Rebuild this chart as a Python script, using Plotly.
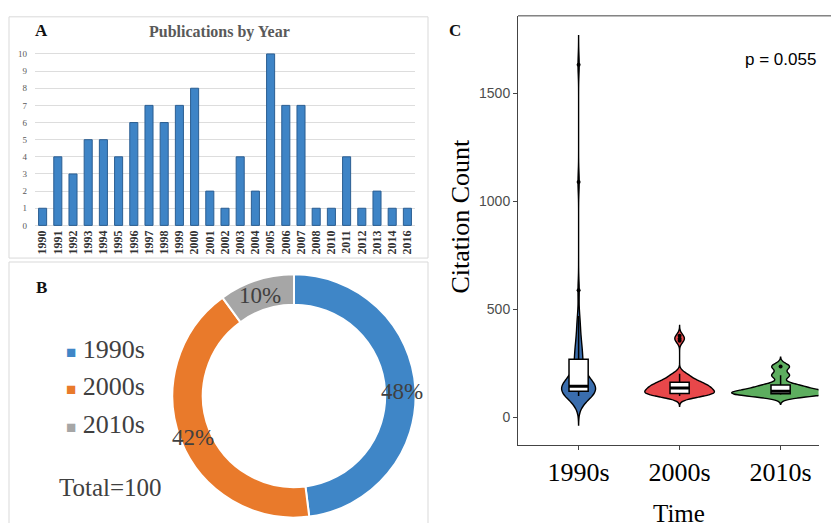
import math
import numpy as np
import plotly.graph_objects as go

W, H = 831, 526
SERIF = "Liberation Serif"
SANS = "Liberation Sans"

# ---------- Panel A data ----------
years = ["1990", "1991", "1992", "1993", "1994", "1995", "1996", "1997", "1998", "1999",
         "2000", "2001", "2002", "2003", "2004", "2005", "2006", "2007", "2008", "2010",
         "2011", "2012", "2013", "2014", "2016"]
pubs = [1, 4, 3, 5, 5, 4, 6, 7, 6, 7, 8, 2, 1, 4, 2, 10, 7, 7, 1, 1, 4, 1, 2, 1, 1]

# ---------- Panel B data ----------
decades = ["1990s", "2000s", "2010s"]
decade_counts = [48, 42, 10]
decade_colors = ["#3F86C7", "#E97A2B", "#A6A6A6"]

# ---------- Panel C data (citation counts) ----------
cit_1990s = [100, 104, 107, 110, 112, 114, 116, 117, 118, 119, 120, 121,
             123, 125, 127, 129, 131, 133, 135, 137, 139, 141, 143, 144,
             146, 150, 155, 160, 168, 175, 185, 195, 210, 225, 245, 265,
             275, 290, 305, 320, 340, 365, 395, 430, 470, 589, 1091, 1633]
cit_2000s = [100, 102, 104, 105, 106, 107, 108, 109, 110, 110,
             111, 113, 116, 119, 122, 125, 128, 131, 133, 135, 136,
             138, 140, 142, 145, 148, 151, 154, 157, 159, 161,
             163, 167, 172, 178, 185, 192, 198, 203, 355, 365, 378]
cit_2010s = [105, 108, 110, 112, 118, 126, 140, 150, 195, 236]
violin_groups = [("1990s", cit_1990s, "#3A6DAD", 45),
                 ("2000s", cit_2000s, "#E8474A", 16),
                 ("2010s", cit_2010s, "#5DAE5F", 14.5)]
p_text = "p = 0.055"


def px(x):
    return x / W


def py(y):
    return 1 - y / H


fig = go.Figure()

# Panel A bars
fig.add_trace(go.Bar(
    x=years, y=pubs, xaxis="x", yaxis="y",
    marker=dict(color="#3E84C6", line=dict(color="#2B5E92", width=1)),
    showlegend=False,
))

# Panel B donut
PIE_CX, PIE_CY, PIE_R, PIE_HOLE = 294, 397.5, 123, 0.75
fig.add_trace(go.Pie(
    labels=decades, values=decade_counts, sort=False, direction="clockwise",
    rotation=0, hole=PIE_HOLE,
    marker=dict(colors=decade_colors, line=dict(color="white", width=2)),
    textinfo="none",
    domain=dict(x=[px(PIE_CX - PIE_R), px(PIE_CX + PIE_R)],
                y=[py(PIE_CY + PIE_R), py(PIE_CY - PIE_R)]),
    showlegend=False, hoverinfo="label+value",
))

# Panel C violins
for name, vals, col, bw in violin_groups:
    fig.add_trace(go.Violin(
        x=[name] * len(vals), y=vals, xaxis="x2", yaxis="y2",
        fillcolor=col, line=dict(color="black", width=1.4), opacity=1,
        bandwidth=bw, spanmode="manual", span=[min(vals) - 3 * bw, max(vals) + 3 * bw],
        scalegroup="c", scalemode="width", points=False,
        box=dict(visible=False), meanline=dict(visible=False),
        showlegend=False, name=name,
    ))
# boxplots on top
for name, vals, col, bw in violin_groups:
    fig.add_trace(go.Box(
        x=[name] * len(vals), y=vals, xaxis="x2", yaxis="y2",
        width=0.19, fillcolor="white", line=dict(color="black", width=1.5),
        whiskerwidth=0, boxpoints="outliers",
        marker=dict(color="black", size=4), showlegend=False, name=name,
    ))
# thick median bar (as in ggplot boxplots)
for name, vals, col, bw in violin_groups:
    med = float(np.median(vals))
    fig.add_trace(go.Box(
        x=[name], q1=[med], median=[med], q3=[med], lowerfence=[med], upperfence=[med],
        xaxis="x2", yaxis="y2", width=0.19, fillcolor="black",
        line=dict(color="black", width=3), whiskerwidth=0,
        showlegend=False, name=name, hoverinfo="skip",
    ))

annotations = [
    dict(text="<b>A</b>", x=px(41), y=py(28), font=dict(family=SERIF, size=17, color="#111")),
    dict(text="<b>Publications by Year</b>", x=px(219), y=py(29),
         font=dict(family=SERIF, size=16, color="#595959")),
    dict(text="<b>B</b>", x=px(41), y=py(288), font=dict(family=SERIF, size=17, color="#111")),
    dict(text="<b>C</b>", x=px(455), y=py(28), font=dict(family=SERIF, size=17, color="#111")),
    dict(text="Total=100", x=px(110), y=py(490), font=dict(family=SERIF, size=25, color="#404040")),
    dict(text="Citation Count", x=px(461), y=py(216), textangle=-90,
         font=dict(family=SERIF, size=26, color="black")),
    dict(text="Time", x=px(679), y=py(516),
         font=dict(family=SERIF, size=25, color="black")),
    dict(text=p_text, x=px(780), y=py(57), font=dict(family=SANS, size=17, color="black")),
]
# percentage labels placed at each slice's mid-angle, in the middle of the ring
total = sum(decade_counts)
r_lab = PIE_R * (1 + PIE_HOLE) / 2 + 1
cum = 0
for v in decade_counts:
    theta = 2 * math.pi * (cum + v / 2) / total
    cum += v
    annotations.append(dict(
        text=f"{round(100 * v / total)}%",
        x=px(PIE_CX + r_lab * math.sin(theta)), y=py(PIE_CY + 2 - r_lab * math.cos(theta)),
        font=dict(family=SERIF, size=23, color="#404040")))
leg_y = [350, 388, 426]
for lab, col, yy in zip(decades, decade_colors, leg_y):
    annotations.append(dict(
        text=f'<span style="color:{col};font-size:17px">■</span> {lab}',
        x=px(64), y=py(yy), xanchor="left",
        font=dict(family=SERIF, size=26, color="#404040")))
for a in annotations:
    a.setdefault("xref", "paper")
    a.setdefault("yref", "paper")
    a.setdefault("showarrow", False)
    a.setdefault("xanchor", "center")
    a.setdefault("yanchor", "middle")

shapes = [
    dict(type="rect", xref="paper", yref="paper", x0=px(9), x1=px(428), y0=py(258), y1=py(14),
         line=dict(color="#D9D9D9", width=1), layer="below"),
    dict(type="path", xref="paper", yref="paper",
         path=f"M {px(9)} 0 L {px(9)} {py(262)} L {px(428)} {py(262)} L {px(428)} 0",
         line=dict(color="#D9D9D9", width=1), layer="below"),
    dict(type="line", xref="paper", yref="paper", x0=px(518), x1=1.0, y0=py(13), y1=py(13),
         line=dict(color="#444", width=1)),
]

X2_END = 0.985
fig.update_layout(
    width=W, height=H, margin=dict(l=0, r=0, t=0, b=0),
    paper_bgcolor="white", plot_bgcolor="rgba(0,0,0,0)",
    bargap=0.47, violinmode="overlay", boxmode="overlay", violingap=0.03, violingroupgap=0,
    annotations=annotations, shapes=shapes,
    xaxis=dict(domain=[px(35), px(415)], type="category", range=[-0.5, 24.5],
               tickangle=-90, ticks="", showline=False, showgrid=False, zeroline=False,
               tickfont=dict(family=SERIF, size=12, color="#333333"), anchor="y",
               tickprefix="<b>", ticksuffix="</b>"),
    yaxis=dict(domain=[py(226.7), py(49.8)], range=[-0.1, 10.1], dtick=1,
               showgrid=True, gridcolor="#DDDDDD", gridwidth=1, zeroline=False,
               showline=False, ticks="", ticklabelstandoff=7,
               tickfont=dict(family=SERIF, size=9, color="#595959"),
               anchor="x"),
    xaxis2=dict(domain=[px(518), X2_END], type="category",
                range=[-0.6, (X2_END * W - 518) / 101 - 0.6],
                showline=True, linecolor="#444", linewidth=1, mirror=False,
                ticks="outside", ticklen=4, tickcolor="#444", showgrid=False, zeroline=False,
                tickfont=dict(family=SERIF, size=26, color="black"),
                anchor="y2"),
    yaxis2=dict(domain=[py(447), py(13)], range=[-127, 1860],
                tickvals=[0, 500, 1000, 1500], showline=True, linecolor="#444", linewidth=1,
                ticks="outside", ticklen=4, tickcolor="#444", showgrid=False, zeroline=False,
                tickfont=dict(family=SANS, size=14, color="#4D4D4D"), anchor="x2"),
)

fig.write_html("out.html")
